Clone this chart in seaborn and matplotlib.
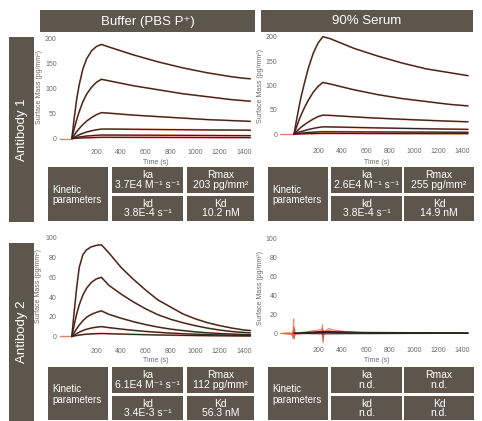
import matplotlib
matplotlib.use("Agg")
import matplotlib.pyplot as plt
from matplotlib.patches import Rectangle
import seaborn as sns

W, H = 482, 421

# sensorgram time points (s), injection ends at 240 s
time_s = [0, 20, 40, 60, 90, 120, 160, 200, 240, 300, 400, 500, 600, 700,
          800, 900, 1000, 1100, 1200, 1300, 1400, 1450]
baseline_t = [-120, 0]
baseline_y = [0, 0]

# Antibody 1 in buffer (pg/mm2), one list per concentration
ab1_buffer = [
    [0, 42, 80, 108, 140, 160, 176, 185, 189, 184, 176, 168, 161, 154, 148, 142, 137, 132, 128, 124, 121, 120],
    [0, 20, 38, 54, 74, 89, 103, 113, 119, 116, 111, 106, 102, 98, 94, 90, 87, 84, 81, 78, 76, 75],
    [0, 7, 14, 20, 28, 35, 42, 48, 52, 51, 49, 47, 45.5, 44, 42.5, 41, 39.5, 38, 37, 36, 35, 34.5],
    [0, 2.5, 5, 7.5, 10.5, 13, 15.5, 17.5, 19, 19, 18.8, 18.5, 18.3, 18.1, 17.9, 17.7, 17.5, 17.3, 17.1, 17, 16.8, 16.7],
    [0, 1, 2, 3, 4, 5, 5.7, 6.4, 7, 6.9, 6.8, 6.7, 6.6, 6.5, 6.4, 6.3, 6.2, 6.1, 6, 5.9, 5.8, 5.8],
    [0, 0.3, 0.6, 0.9, 1.2, 1.5, 1.8, 2.1, 2.4, 2.4, 2.3, 2.3, 2.2, 2.2, 2.1, 2.1, 2.0, 2.0, 1.9, 1.9, 1.9, 1.8],
]

# Antibody 1 in 90% serum
ab1_serum = [
    [0, 28, 54, 78, 108, 136, 166, 187, 200, 196, 186, 176, 168, 160, 153, 146, 140, 134, 130, 126, 122, 120],
    [0, 14, 28, 40, 56, 70, 86, 98, 106, 103, 97, 91, 86, 81, 77, 73, 70, 67, 64, 61, 59, 58],
    [0, 5, 10, 14.5, 20, 25, 31, 36, 39, 38.5, 37, 35.5, 34, 32.8, 31.6, 30.5, 29.5, 28.5, 27.5, 26.6, 25.8, 25.4],
    [0, 2, 4, 5.5, 7.5, 9.5, 11.8, 13.6, 15, 14.8, 14.3, 13.8, 13.3, 12.8, 12.3, 11.9, 11.5, 11.1, 10.7, 10.3, 10, 9.8],
    [0, 0.7, 1.4, 2, 2.8, 3.4, 4, 4.6, 5, 4.9, 4.8, 4.7, 4.6, 4.5, 4.4, 4.3, 4.2, 4.1, 4, 3.9, 3.8, 3.8],
    [0, 0.2, 0.4, 0.6, 0.8, 1, 1.2, 1.4, 1.5, 1.5, 1.4, 1.4, 1.3, 1.3, 1.2, 1.2, 1.2, 1.1, 1.1, 1.1, 1, 1],
]

# Antibody 2 in buffer
ab2_buffer = [
    [0, 26, 50, 70, 83, 88, 91, 92.5, 93, 85, 70, 58, 47, 37, 30, 23, 18, 14, 11, 8.5, 6.5, 6],
    [0, 12, 23, 32, 42, 49, 55, 58.5, 60, 52, 43, 35, 28, 22, 17.5, 14, 11, 8.5, 6.5, 5, 4, 3.7],
    [0, 4, 8, 11.5, 16, 19.5, 22.5, 24.5, 26, 22.5, 18.5, 15, 12, 9.5, 7.5, 6, 4.7, 3.7, 3, 2.4, 2, 1.8],
    [0, 1.5, 3, 4.3, 6, 7.3, 8.6, 9.4, 10, 9, 7.5, 6.2, 5.1, 4.2, 3.4, 2.8, 2.3, 1.9, 1.6, 1.3, 1.1, 1],
    [0, 0.5, 1, 1.4, 1.9, 2.3, 2.6, 2.85, 3, 2.8, 2.4, 2.1, 1.8, 1.5, 1.3, 1.1, 0.95, 0.8, 0.7, 0.6, 0.5, 0.5],
]

# Antibody 2 in 90% serum: no binding, only injection artefacts
noise_t = [-90, -40, -15, -8, -3, 0, 4, 8, 15, 30, 60, 100, 150, 200, 230,
           238, 242, 250, 265, 290, 320, 360, 420, 500, 600, 800, 1000, 1200, 1450]
ab2_serum_fit = [
    [0, -1, -2, 3, 15, -4, 6, -2, 1, 0, 1, 1.5, 2.5, 3.5, 4, 9, -8, 2, 3, 5, 4, 3, 2, 1, 0.5, 0.3, 0.2, 0.1, 0],
    [0, 0.5, -1, -5, 6, 2, -3, 1, 0, -0.5, 0.5, 1, 1.5, 2, 2.5, -5, 3, 1, 2, 3, 2.5, 2, 1.5, 1, 0.5, 0.3, 0.2, 0.1, 0],
    [0, -0.5, 0.5, 2, -2, -6, 4, 0, -1, -1, -0.5, 0, 0.5, 1, 1.5, 5, -10, 0, 1, 1.5, 1, 0.8, 0.5, 0.3, 0, 0, 0, 0, 0],
]
flat_t = [0, 240, 600, 1450]
ab2_serum = [
    [0, 2, 1, 0.5],
    [0, 1, 0.5, 0.2],
    [0, -0.5, -0.3, 0],
]

x_ticks = [200, 400, 600, 800, 1000, 1200, 1400]

col_titles = ["Buffer (PBS P\u207a)", "90% Serum"]
row_titles = ["Antibody 1", "Antibody 2"]

# kinetic tables: (ka, Rmax, kd, Kd)
kin_ab1_buffer = ["3.7E4 M\u207b\u00b9 s\u207b\u00b9", "203 pg/mm\u00b2", "3.8E-4 s\u207b\u00b9", "10.2 nM"]
kin_ab1_serum = ["2.6E4 M\u207b\u00b9 s\u207b\u00b9", "255 pg/mm\u00b2", "3.8E-4 s\u207b\u00b9", "14.9 nM"]
kin_ab2_buffer = ["6.1E4 M\u207b\u00b9 s\u207b\u00b9", "112 pg/mm\u00b2", "3.4E-3 s\u207b\u00b9", "56.3 nM"]
kin_ab2_serum = ["n.d.", "n.d.", "n.d.", "n.d."]

BOX = "#5e564d"
BLACK = "#2a2623"
RED = "#e0603c"
TICK = "#6b6b6b"

sns.set_style("white")
plt.rcParams["font.family"] = ["Liberation Sans", "DejaVu Sans"]

fig = plt.figure(figsize=(W / 100, H / 100), dpi=100)

# background layer in pixel coordinates for the boxes and tables
bg = fig.add_axes([0, 0, 1, 1])
bg.set_xlim(0, W)
bg.set_ylim(H, 0)
bg.axis("off")


def box(x0, y0, x1, y1):
    bg.add_patch(Rectangle((x0, y0), x1 - x0, y1 - y0, color=BOX, lw=0))


# column headers
for (x0, x1), title in zip([(40, 255), (261, 473)], col_titles):
    box(x0, 10, x1, 32)
    bg.text((x0 + x1) / 2, 21.5, title, color="white", fontsize=9.5, ha="center", va="center")

# row labels
for (y0, y1), title in zip([(37, 222), (243, 421)], row_titles):
    box(9, y0, 34, y1)
    bg.text(21.5, (y0 + y1) / 2, title, color="white", fontsize=9.5, rotation=90,
            ha="center", va="center")


def kinetic_table(x_cols, y0, y1, y2, y3, vals):
    (k0, k1), (a0, a1), (r0, r1) = x_cols
    box(k0, y0, k1, y3)
    bg.text(k0 + 4, (y0 + y3) / 2 + 1, "Kinetic\nparameters", color="white", fontsize=7,
            ha="left", va="center", linespacing=1.1)
    cells = [("ka", vals[0], a0, a1, y0, y1), ("Rmax", vals[1], r0, r1, y0, y1),
             ("kd", vals[2], a0, a1, y2, y3), ("Kd", vals[3], r0, r1, y2, y3)]
    for name, val, c0, c1, t0, t1 in cells:
        box(c0, t0, c1, t1)
        cx = (c0 + c1) / 2
        bg.text(cx, t0 + 8, name, color="white", fontsize=7.5, ha="center", va="center")
        bg.text(cx, t0 + 17.5, val, color="white", fontsize=7.5, ha="center", va="center")


left_cols = [(48, 108), (112, 183), (187, 254)]
right_cols = [(268, 328), (331, 402), (404, 474)]
kinetic_table(left_cols, 167, 193, 196, 221, kin_ab1_buffer)
kinetic_table(right_cols, 167, 193, 196, 221, kin_ab1_serum)
kinetic_table(left_cols, 367, 393, 396, 420, kin_ab2_buffer)
kinetic_table(right_cols, 367, 393, 396, 420, kin_ab2_serum)


def panel(x0, y0, x1, y1, xlim, ylim, yticks, xpad, ylab_x, xlab_y):
    ax = fig.add_axes([x0 / W, 1 - y1 / H, (x1 - x0) / W, (y1 - y0) / H])
    ax.set_facecolor("white")
    ax.set_xlim(*xlim)
    ax.set_ylim(*ylim)
    ax.set_xticks(x_ticks)
    ax.set_yticks(yticks)
    ax.tick_params(length=0, labelsize=5, colors=TICK, pad=2)
    ax.tick_params(axis="x", pad=xpad)
    sns.despine(ax=ax, left=True, bottom=True, top=True, right=True)
    ax.set_ylabel("Surface Mass (pg/mm\u00b2)", fontsize=5, color=TICK)
    ax.yaxis.set_label_coords((ylab_x - x0) / (x1 - x0), 0.5)
    ax.set_xlabel("Time (s)", fontsize=5, color=TICK)
    ax.xaxis.set_label_coords(0.5, (y1 - xlab_y) / (y1 - y0))
    ax.xaxis.label.set_va("center")
    return ax


def sensorgrams(ax, curves, t, fit_t=None, fits=None, fit_lw=1.3):
    sns.lineplot(x=baseline_t, y=baseline_y, ax=ax, color=RED, lw=1.0, alpha=0.8)
    fit_t = t if fit_t is None else fit_t
    fits = curves if fits is None else fits
    for ys in fits:
        sns.lineplot(x=fit_t, y=ys, ax=ax, color=RED, lw=fit_lw, alpha=0.75,
                     estimator=None, sort=False)
    for ys in curves:
        sns.lineplot(x=t, y=ys, ax=ax, color=BLACK, lw=0.85, alpha=1.0,
                     estimator=None, sort=False)


ax_tl = panel(59.5, 32, 252, 142.5, (-100, 1463), (-8, 214), [0, 50, 100, 150, 200], 4.5, 43, 163)
sensorgrams(ax_tl, ab1_buffer, time_s)

ax_tr = panel(280, 32, 474, 140, (-117, 1500), (-12, 209.6), [0, 50, 100, 150, 200], 6, 264, 163)
sensorgrams(ax_tr, ab1_serum, time_s)

ax_bl = panel(59.5, 232, 252, 340.4, (-100, 1463), (-4, 106), [0, 20, 40, 60, 80, 100], 5.5, 42, 360)
sensorgrams(ax_bl, ab2_buffer, time_s)

ax_br = panel(280, 232, 474, 344.4, (-117, 1500), (-11.6, 106.3), [0, 20, 40, 60, 80, 100], 2.2, 264, 360)
sensorgrams(ax_br, ab2_serum, flat_t, noise_t, ab2_serum_fit, fit_lw=0.8)

fig.savefig("out.png", dpi=100)
